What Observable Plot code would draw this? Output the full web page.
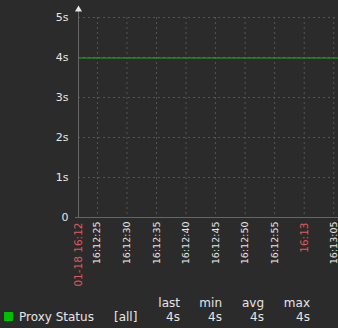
<!DOCTYPE html>
<html>
<head>
<meta charset="utf-8">
<script src="https://cdn.jsdelivr.net/npm/d3@7"></script>
<script src="https://cdn.jsdelivr.net/npm/@observablehq/plot@0.6"></script>
<style>
  html, body { margin: 0; padding: 0; background: #2b2b2b; }
  #wrap { position: relative; width: 338px; height: 328px; overflow: hidden; background: #2b2b2b; font-family: "DejaVu Sans", sans-serif; color: #e6e6e6; }
  #legend { position: absolute; left: 0; top: 0; width: 338px; height: 328px; pointer-events: none; }
  #legend div { position: absolute; font-size: 12px; line-height: 14px; white-space: nowrap; }
  .r { text-align: right; }
</style>
</head>
<body>
<div id="wrap"><div id="chart"></div><div id="legend"></div></div>
<script>
// ---- data ----
const times = ["2024-01-18T16:12:22", "2024-01-18T16:12:32", "2024-01-18T16:12:42", "2024-01-18T16:12:52", "2024-01-18T16:13:02", "2024-01-18T16:13:06"];
const values = [4, 4, 4, 4, 4, 4];
const domainStart = "2024-01-18T16:12:21.8";
const domainEnd = "2024-01-18T16:13:05.8";
const normalTicks = ["2024-01-18T16:12:25", "2024-01-18T16:12:30", "2024-01-18T16:12:35", "2024-01-18T16:12:40", "2024-01-18T16:12:45", "2024-01-18T16:12:50", "2024-01-18T16:12:55", "2024-01-18T16:13:05"];
const normalLabels = ["16:12:25", "16:12:30", "16:12:35", "16:12:40", "16:12:45", "16:12:50", "16:12:55", "16:13:05"];
const redTicks = ["2024-01-18T16:12:21.8", "2024-01-18T16:13:00"];
const redLabels = ["01-18 16:12", "16:13"];
const gridTicks = ["2024-01-18T16:12:25", "2024-01-18T16:12:30", "2024-01-18T16:12:35", "2024-01-18T16:12:40", "2024-01-18T16:12:45", "2024-01-18T16:12:50", "2024-01-18T16:12:55", "2024-01-18T16:13:00", "2024-01-18T16:13:05"];
const yTicks = [0, 1, 2, 3, 4, 5];
const yLabels = ["0", "1s", "2s", "3s", "4s", "5s"];
const seriesName = "Proxy Status";
const legendHeaders = ["last", "min", "avg", "max"];
const legendValues = ["4s", "4s", "4s", "4s"];

const P = d => new Date(d);
const data = times.map((t, i) => ({t: P(t), v: values[i]}));
const nMap = new Map(normalTicks.map((t, i) => [+P(t), normalLabels[i]]));
const rMap = new Map(redTicks.map((t, i) => [+P(t), redLabels[i]]));

const chart = Plot.plot({
  width: 338,
  height: 292,
  marginLeft: 78,
  marginRight: 0,
  marginTop: 17,
  marginBottom: 75,
  style: {background: "#2b2b2b", color: "#e6e6e6", fontFamily: "DejaVu Sans, sans-serif"},
  x: {type: "time", domain: [P(domainStart), P(domainEnd)]},
  y: {domain: [0, 5]},
  marks: [
    Plot.ruleY(yTicks.slice(1), {stroke: "#555", strokeDasharray: "2,3", strokeWidth: 1}),
    Plot.ruleX(gridTicks.map(P), {stroke: "#555", strokeDasharray: "2,3", strokeWidth: 1}),
    Plot.ruleY([0], {stroke: "#666", strokeWidth: 1, insetLeft: -3}),
    Plot.ruleX([P(domainStart)], {stroke: "#666", strokeWidth: 1, insetTop: -6}),
    Plot.dot([0], {frameAnchor: "top-left", symbol: "triangle", r: 2.6, dy: -8, fill: "#e6e6e6", stroke: "none"}),
    Plot.axisY({ticks: yTicks, tickSize: 0, tickPadding: 10, fontSize: 11, fill: "#e6e6e6", tickFormat: d => yLabels[yTicks.indexOf(d)], label: null}),
    Plot.axisX({ticks: normalTicks.map(P), tickSize: 0, tickPadding: 4, tickRotate: -90, fontSize: 9.5, fill: "#e6e6e6", tickFormat: d => nMap.get(+d), label: null}),
    Plot.axisX({ticks: redTicks.map(P), tickSize: 0, tickPadding: 5, tickRotate: -90, fontSize: 10.5, fill: "#e05a5a", tickFormat: d => rMap.get(+d), label: null}),
    Plot.line(data, {x: "t", y: "v", stroke: "#20b020", strokeWidth: 1.2, dy: 0.5})
  ]
});
document.getElementById("chart").appendChild(chart);

// ---- legend ----
const lg = document.getElementById("legend");
function add(txt, style, cls) {
  const d = document.createElement("div");
  d.textContent = txt;
  Object.assign(d.style, style);
  if (cls) d.className = cls;
  lg.appendChild(d);
  return d;
}
const colRight = [180, 222, 264, 310];
legendHeaders.forEach((h, i) => add(h, {right: (338 - colRight[i]) + "px", top: "296px"}, "r"));
const sq = document.createElement("div");
Object.assign(sq.style, {left: "4px", top: "312px", width: "9px", height: "9px", background: "#00bf00"});
lg.appendChild(sq);
add(seriesName, {left: "19px", top: "310px"});
add("[all]", {left: "114px", top: "310px"});
legendValues.forEach((v, i) => add(v, {right: (338 - colRight[i]) + "px", top: "310px"}, "r"));
</script>
</body>
</html>
